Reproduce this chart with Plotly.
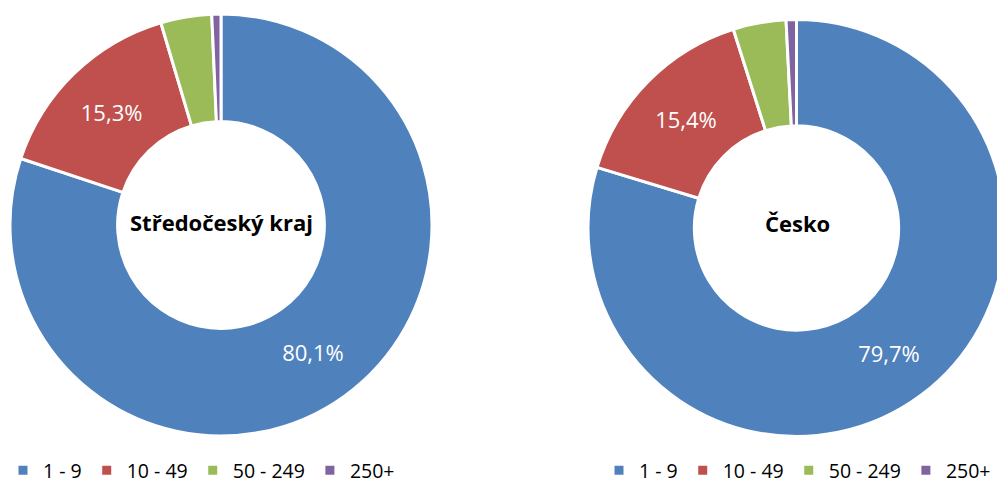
import plotly.graph_objects as go

categories = ["1 - 9", "10 - 49", "50 - 249", "250+"]
stredocesky_values = [80.1, 15.3, 3.9, 0.7]
cesko_values = [79.7, 15.4, 4.1, 0.8]
region_titles = ["Středočeský kraj", "Česko"]
colors = ["#4F81BD", "#C0504D", "#9BBB59", "#8064A2"]

# page body has an 8px default margin, so the figure is made smaller and positions are shifted
OFF = 8
FW, FH = 1005 - OFF, 482 - OFF


def labels_for(vals):
    out = []
    for v in vals:
        out.append((f"{v:.1f}".replace(".", ",") + "%") if v > 10 else "")
    return out


def rx(x):
    return (x - OFF) / FW


def ry(y):
    return 1 - (y - OFF) / FH


def fx(x):
    return min(1, max(0, rx(x)))


def fy(y):
    return min(1, max(0, ry(y)))


def dom(left, right, top, bottom):
    return dict(x=[fx(left), fx(right)], y=[fy(bottom), fy(top)])


fig = go.Figure()
fig.add_trace(go.Pie(
    labels=categories, values=stredocesky_values, text=labels_for(stredocesky_values),
    textinfo="text", hole=0.49, sort=False, direction="clockwise", rotation=0,
    marker=dict(colors=colors, line=dict(color="white", width=3)),
    textfont=dict(color="white", size=22, family="Open Sans"),
    insidetextorientation="horizontal", textposition="inside",
    domain=dom(10, 432, 14, 436),
    legend="legend", hoverinfo="label+percent",
))
# second legend needs distinct label keys; a <span> wrapper keeps the visible text identical
fig.add_trace(go.Pie(
    labels=[f"<span>{c}</span>" for c in categories], values=cesko_values,
    text=labels_for(cesko_values),
    textinfo="text", hole=0.49, sort=False, direction="clockwise", rotation=0,
    marker=dict(colors=colors, line=dict(color="white", width=3)),
    textfont=dict(color="white", size=22, family="Open Sans"),
    insidetextorientation="horizontal", textposition="inside",
    domain=dom(588, 1005, 16, 440),
    legend="legend2", hoverinfo="percent",
))

legend_common = dict(orientation="h", yanchor="top", xanchor="left",
                     font=dict(size=19.5, family="Open Sans", color="#000000"),
                     bgcolor="rgba(0,0,0,0)", itemwidth=30, traceorder="normal")
fig.update_layout(
    width=FW, height=FH, margin=dict(l=0, r=0, t=0, b=0, autoexpand=False),
    paper_bgcolor="white", plot_bgcolor="white",
    legend=dict(x=rx(22 - 19), y=ry(470 - 19), **legend_common),
    legend2=dict(x=rx(618 - 19), y=ry(470 - 19), **legend_common),
    annotations=[
        dict(text=region_titles[0], x=fx(221), y=fy(222), xref="paper", yref="paper",
             xanchor="center", yanchor="middle", showarrow=False,
             font=dict(size=22, family="Open Sans", color="black", weight="bold")),
        dict(text=region_titles[1], x=fx(797), y=fy(223), xref="paper", yref="paper",
             xanchor="center", yanchor="middle", showarrow=False,
             font=dict(size=22, family="Open Sans", color="black", weight="bold")),
    ],
)

fig.write_html("out.html")
